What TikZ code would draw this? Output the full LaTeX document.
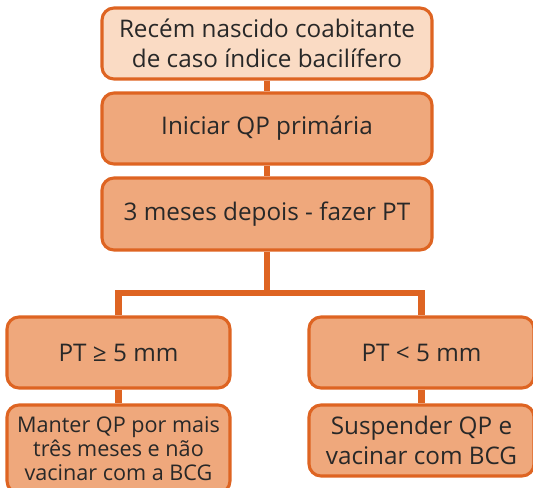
\documentclass[tikz,border=0pt]{standalone}
\usepackage{fontspec}
\setmainfont{Open Sans}
\definecolor{edge}{RGB}{222,100,34}
\definecolor{lightfill}{RGB}{250,219,196}
\definecolor{midfill}{RGB}{239,168,124}
\definecolor{txt}{RGB}{40,40,40}
\tikzset{
  box/.style={draw=edge, line width=2.3pt, rounded corners=9pt, fill=midfill,
    text=txt, align=center, inner sep=0pt, font=\fontsize{18.2}{22.5}\selectfont},
  conn/.style={draw=edge, line width=4.6pt}
}
\begin{document}
\begin{tikzpicture}[x=0.75pt,y=-0.75pt]
\useasboundingbox (0,0) rectangle (533,488);
\node[box, fill=lightfill, minimum width=330*0.75pt, minimum height=71*0.75pt] (b1) at (267,43.5) {Recém nascido coabitante\\de caso índice bacilífero};
\node[box, minimum width=330*0.75pt, minimum height=71*0.75pt] (b2) at (267,128.5) {Iniciar QP primária};
\node[box, minimum width=330*0.75pt, minimum height=72*0.75pt] (b3) at (267,214) {3 meses depois - fazer PT};
\node[box, minimum width=223*0.75pt, minimum height=71*0.75pt] (b4) at (118.5,352.5) {PT ≥ 5 mm};
\node[box, minimum width=225*0.75pt, minimum height=71*0.75pt] (b5) at (421.5,352.5) {PT < 5 mm};
\node[box, minimum width=223*0.75pt, minimum height=88*0.75pt, font=\fontsize{16.2}{18}\selectfont] (b6) at (118.5,449) {Manter QP por mais\\três meses e não\\vacinar com a BCG};
\node[box, minimum width=225*0.75pt, minimum height=71*0.75pt] (b7) at (421.5,440.5) {Suspender QP e\\vacinar com BCG};
\coordinate (j) at (267,293);
\draw[conn] (b1.south) -- (b2.north);
\draw[conn] (b2.south) -- (b3.north);
\draw[conn] (b3.south) -- (j);
\draw[conn, line join=miter] (b4.north) |- (j) -| (b5.north);
\draw[conn] (b4.south) -- (b6.north);
\draw[conn] (b5.south) -- (b7.north);
\end{tikzpicture}
\end{document}
